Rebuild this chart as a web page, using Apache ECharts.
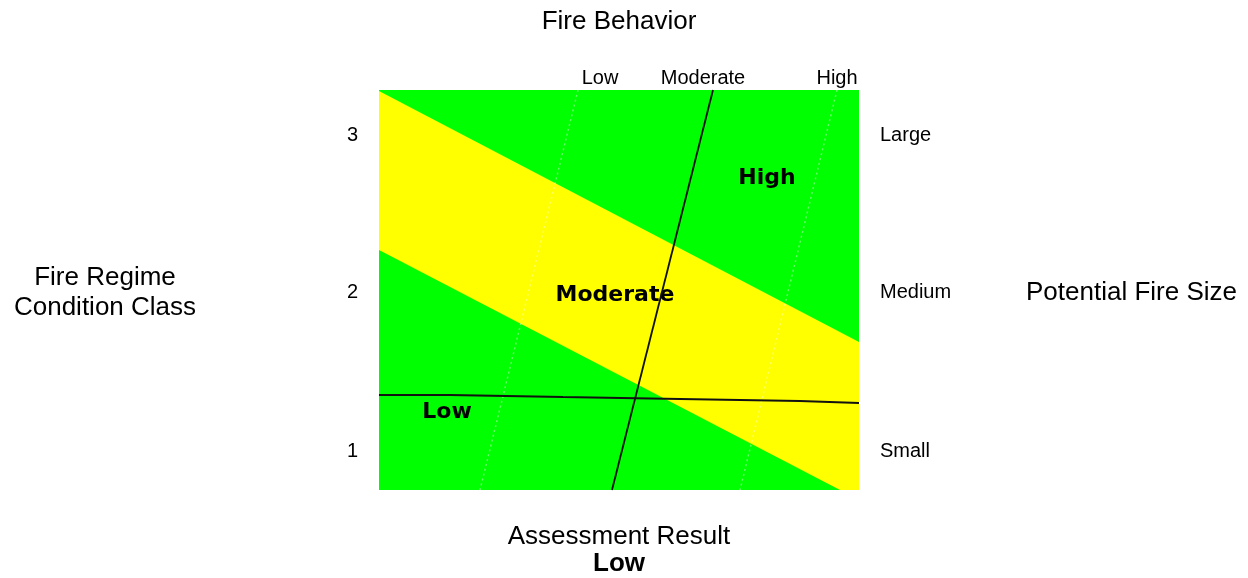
<!DOCTYPE html>
<html>
<head>
<meta charset="utf-8">
<script src="https://cdn.jsdelivr.net/npm/echarts@6/dist/echarts.min.js"></script>
<style>
  html, body { margin: 0; padding: 0; background: #fff; }
  #chart { width: 1248px; height: 578px; }
</style>
</head>
<body>
<div id="chart"></div>
<script>
// plot coordinates: x 0..480 (left to right), y 0..400 (bottom to top)
const behaviorLabels = ['Low', 'Moderate', 'High'];
const behaviorPos = [221, 324, 458];
const classLabels = ['1', '2', '3'];
const sizeLabels = ['Small', 'Medium', 'Large'];
const classPos = [39, 198, 355];

// yellow (moderate) band
const bandPolygon = [[0, 400], [0, 399], [480, 148], [480, 0], [461, 0], [0, 240]];

// fire behavior lines
const lowLine = [[199, 400], [101, 0]];
const moderateLine = [[334, 400], [233, 0]];
const highLine = [[458, 400], [361, 0]];

// assessment (condition class) line
const resultLine = [[0, 95], [71, 93], [184, 91], [301, 89], [421, 87], [480, 87]];

// zone labels
const zoneLabels = ['High', 'Moderate', 'Low'];
const zoneX = [388, 236, 68];
const zoneY = [312, 195, 78];

const FONT = 'Liberation Sans, Arial, sans-serif';

let chart = echarts.init(document.getElementById('chart'));

let option = {
  animation: false,
  grid: {
    left: 379, top: 90, width: 480, height: 400,
    show: true, backgroundColor: '#00ff00', borderWidth: 0
  },
  xAxis: {
    type: 'value', position: 'top', min: 0, max: 480,
    splitLine: { show: false }, axisLine: { show: false }, axisTick: { show: false },
    axisLabel: {
      customValues: behaviorPos, margin: 2,
      color: '#000', fontFamily: FONT, fontSize: 20,
      formatter: v => behaviorLabels[behaviorPos.indexOf(v)]
    }
  },
  yAxis: [{
    type: 'value', min: 0, max: 400,
    splitLine: { show: false }, axisLine: { show: false }, axisTick: { show: false },
    axisLabel: {
      customValues: classPos, margin: 21,
      color: '#000', fontFamily: FONT, fontSize: 20,
      formatter: v => classLabels[classPos.indexOf(v)]
    }
  }, {
    type: 'value', min: 0, max: 400, position: 'right',
    splitLine: { show: false }, axisLine: { show: false }, axisTick: { show: false },
    axisLabel: {
      customValues: classPos, margin: 21,
      color: '#000', fontFamily: FONT, fontSize: 20,
      formatter: v => sizeLabels[classPos.indexOf(v)]
    }
  }],
  graphic: [
    { type: 'text', x: 619, y: 22, style: { text: 'Fire Behavior', font: '26px ' + FONT, fill: '#000', textAlign: 'center', textVerticalAlign: 'middle' } },
    { type: 'text', x: 105, y: 293, style: { text: 'Fire Regime\nCondition Class', font: '26px ' + FONT, fill: '#000', textAlign: 'center', textVerticalAlign: 'middle', lineHeight: 30 } },
    { type: 'text', x: 1026, y: 293, style: { text: 'Potential Fire Size', font: '26px ' + FONT, fill: '#000', textAlign: 'left', textVerticalAlign: 'middle' } },
    { type: 'text', x: 619, y: 537, style: { text: 'Assessment Result', font: '26px ' + FONT, fill: '#000', textAlign: 'center', textVerticalAlign: 'middle' } },
    { type: 'text', x: 619, y: 564, style: { text: 'Low', font: 'bold 26px ' + FONT, fill: '#000', textAlign: 'center', textVerticalAlign: 'middle' } }
  ],
  series: [
    {
      type: 'custom',
      data: [0],
      silent: true,
      renderItem: (params, api) => ({
        type: 'polygon',
        shape: { points: bandPolygon.map(p => api.coord(p)) },
        style: { fill: '#ffff00' }
      })
    },
    {
      type: 'line', data: lowLine, symbol: 'none', silent: true,
      lineStyle: { color: 'rgba(255,255,255,0.4)', width: 1.5, type: [2, 3] }
    },
    {
      type: 'line', data: highLine, symbol: 'none', silent: true,
      lineStyle: { color: 'rgba(255,255,255,0.4)', width: 1.5, type: [2, 3] }
    },
    {
      type: 'line', data: moderateLine, symbol: 'none', silent: true,
      lineStyle: { color: '#111', width: 1.8 }
    },
    {
      type: 'line', data: resultLine, step: 'end', symbol: 'none', silent: true,
      lineStyle: { color: '#111', width: 1.8 }
    },
    {
      type: 'scatter', symbolSize: 0, silent: true,
      itemStyle: { opacity: 1 },
      data: zoneLabels.map((t, i) => ({ name: t, value: [zoneX[i], zoneY[i]] })),
      label: {
        show: true, position: 'inside', formatter: '{b}', opacity: 1,
        fontFamily: 'DejaVu Sans', fontWeight: 'bold', fontSize: 22, color: '#000'
      }
    }
  ]
};

chart.setOption(option);
</script>
</body>
</html>
